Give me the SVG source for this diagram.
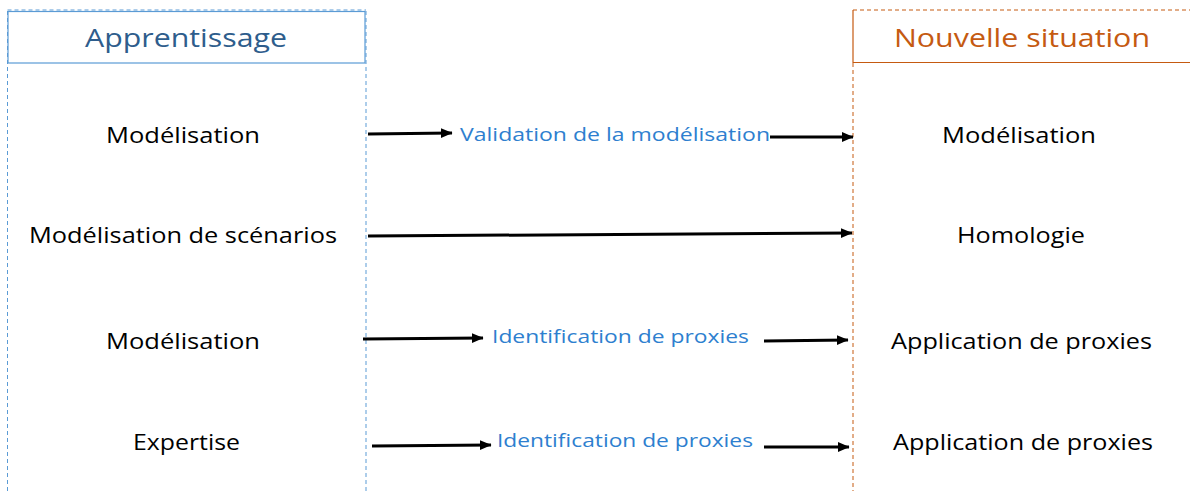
<svg xmlns="http://www.w3.org/2000/svg" width="1190" height="491" viewBox="0 0 1190 491">
<style>
  text { font-family: "Open Sans", "Noto Sans", sans-serif; }
  .t { font-size: 22px; fill: #000; text-anchor: middle; }
  .lab { font-size: 18px; fill: #2e7fcf; }
  .h1 { font-size: 26px; fill: #2e5d8c; text-anchor: middle; }
  .h2 { font-size: 26px; fill: #c55a11; text-anchor: middle; }
  .edge { stroke: #000; stroke-width: 3; fill: none; marker-end: url(#ah); }
  .bdash { stroke: #5b9bd5; stroke-width: 1; stroke-dasharray: 4 3; fill: none; }
  .odash { stroke: #c55a11; stroke-width: 1; stroke-dasharray: 4 3; fill: none; }
</style>
<defs>
  <marker id="ah" markerWidth="4" markerHeight="4" refX="3.8" refY="2" orient="auto" markerUnits="strokeWidth">
    <path d="M0,0.3 L4,2 L0,3.7 Z" fill="#000"/>
  </marker>
</defs>
<rect width="1190" height="491" fill="#fff"/>

<g id="col-apprentissage">
  <line class="bdash" x1="7.5" y1="11" x2="7.5" y2="491"/>
  <line class="bdash" x1="366" y1="11" x2="366" y2="491"/>
  <line class="bdash" x1="7.5" y1="10" x2="366" y2="10"/>
  <rect x="8" y="11.5" width="357" height="51.5" fill="none" stroke="#5b9bd5" stroke-width="1.2"/>
  <text class="h1" x="186" y="47" textLength="202" lengthAdjust="spacingAndGlyphs">Apprentissage</text>
</g>

<g id="col-nouvelle">
  <line class="odash" x1="853" y1="10" x2="1190" y2="10"/>
  <line x1="853" y1="10" x2="853" y2="63" stroke="#c55a11" stroke-width="1.2"/>
  <line x1="853" y1="62.5" x2="1190" y2="62.5" stroke="#c55a11" stroke-width="1.2"/>
  <line class="odash" x1="853" y1="63" x2="853" y2="491"/>
  <text class="h2" x="1022" y="47" textLength="256" lengthAdjust="spacingAndGlyphs">Nouvelle situation</text>
</g>

<g id="n-left-1"><text class="t" x="183" y="143" textLength="154" lengthAdjust="spacingAndGlyphs">Modélisation</text></g>
<g id="n-left-2"><text class="t" x="183" y="243" textLength="308" lengthAdjust="spacingAndGlyphs">Modélisation de scénarios</text></g>
<g id="n-left-3"><text class="t" x="183" y="349" textLength="154" lengthAdjust="spacingAndGlyphs">Modélisation</text></g>
<g id="n-left-4"><text class="t" x="186.5" y="450" textLength="107" lengthAdjust="spacingAndGlyphs">Expertise</text></g>

<g id="n-right-1"><text class="t" x="1019" y="143" textLength="154" lengthAdjust="spacingAndGlyphs">Modélisation</text></g>
<g id="n-right-2"><text class="t" x="1021" y="243" textLength="128" lengthAdjust="spacingAndGlyphs">Homologie</text></g>
<g id="n-right-3"><text class="t" x="1021.5" y="349" textLength="261" lengthAdjust="spacingAndGlyphs">Application de proxies</text></g>
<g id="n-right-4"><text class="t" x="1023" y="450" textLength="260" lengthAdjust="spacingAndGlyphs">Application de proxies</text></g>

<g id="connectors">
  <line class="edge" x1="368" y1="134" x2="452" y2="133"/>
  <text class="lab" x="460" y="141" textLength="310" lengthAdjust="spacingAndGlyphs">Validation de la modélisation</text>
  <line class="edge" x1="770" y1="137" x2="853" y2="137"/>

  <line class="edge" x1="368" y1="236" x2="852" y2="233"/>

  <line class="edge" x1="363" y1="339" x2="483" y2="338"/>
  <text class="lab" x="492" y="343" textLength="257" lengthAdjust="spacingAndGlyphs">Identification de proxies</text>
  <line class="edge" x1="764" y1="341" x2="848" y2="340"/>

  <line class="edge" x1="372" y1="446" x2="491" y2="445"/>
  <text class="lab" x="497" y="447" textLength="256" lengthAdjust="spacingAndGlyphs">Identification de proxies</text>
  <line class="edge" x1="764" y1="447" x2="849" y2="447"/>
</g>
</svg>
